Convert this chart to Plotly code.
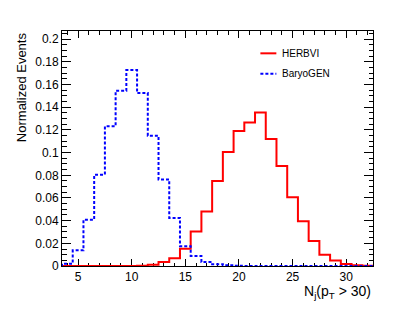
import plotly.graph_objects as go

# ---- data ----
bin_centers = list(range(3, 33))  # unit-width bins centered on integers
baryogen = [0.0, 0.002, 0.0138, 0.0409, 0.0805, 0.1232, 0.1545, 0.1728, 0.1525, 0.115,
            0.0763, 0.0424, 0.0174, 0.0088, 0.0035, 0.0015, 0.0007, 0.0003, 0.0001, 0.0,
            0.0, 0.0, 0.0, 0.0, 0.0, 0.0, 0.0, 0.0, 0.0, 0.0]
herbvi = [0.0, 0.0, 0.0, 0.0, 0.0, 0.0, 0.0, 0.0, 0.0002, 0.001,
          0.0035, 0.0068, 0.0153, 0.0305, 0.048, 0.075, 0.1006, 0.119, 0.1266, 0.1354,
          0.112, 0.0883, 0.0606, 0.0395, 0.022, 0.010, 0.0048, 0.0018, 0.0006, 0.0002]
series_names = ["HERBVI", "BaryoGEN"]
x_tick_vals = [5, 10, 15, 20, 25, 30]
y_tick_vals = [0, 0.02, 0.04, 0.06, 0.08, 0.1, 0.12, 0.14, 0.16, 0.18, 0.2]
y_tick_text = ["0", "0.02", "0.04", "0.06", "0.08", "0.1", "0.12", "0.14", "0.16", "0.18", "0.2"]


def step_xy(centers, values):
    edges = [c - 0.5 for c in centers] + [centers[-1] + 0.5]
    return edges, list(values) + [values[-1]]


FONT = "Liberation Sans, Arial, Helvetica, sans-serif"
RED = "#ff0000"
BLUE = "#0000ff"

fig = go.Figure()
xr, yr = step_xy(bin_centers, herbvi)
fig.add_trace(go.Scatter(x=xr, y=yr, mode="lines", line=dict(shape="hv", color=RED, width=2),
                         name=series_names[0], showlegend=False))
xb, yb = step_xy(bin_centers, baryogen)
fig.add_trace(go.Scatter(x=xb, y=yb, mode="lines",
                         line=dict(shape="hv", color=BLUE, width=2, dash="3px,2px"),
                         name=series_names[1], showlegend=False))

L, R, T, B = 62, 41.5, 31, 47.3
W, H = 415, 313
pw, ph = W - L - R, H - T - B


def px_to_paper(px, py):
    return (px - L) / pw, (H - B - py) / ph


# manual ROOT-like legend
leg = [(series_names[0], RED, "solid", 53.3), (series_names[1], BLUE, "3px,2px", 73.7)]
for name, col, dash, ypx in leg:
    x0, yy = px_to_paper(260.7, ypx)
    x1, _ = px_to_paper(276.7, ypx)
    fig.add_shape(type="line", xref="paper", yref="paper", x0=x0, x1=x1, y0=yy, y1=yy,
                  line=dict(color=col, width=2, dash=dash))
    xt, _ = px_to_paper(280, ypx)
    fig.add_annotation(xref="paper", yref="paper", x=xt, y=yy, text=name, showarrow=False,
                       xanchor="left", yanchor="middle", font=dict(family=FONT, size=10, color="black"))

# axis titles
ytx, yty = px_to_paper(21, 87)
fig.add_annotation(xref="paper", yref="paper", x=ytx, y=yty, text="Normalized Events",
                   textangle=-90, showarrow=False, xanchor="center", yanchor="middle",
                   font=dict(family=FONT, size=13, color="black"))
_, xty = px_to_paper(0, 292)
fig.add_annotation(xref="paper", yref="paper", x=1.0, y=xty,
                   text="N<sub>j</sub>(p<sub>T</sub> > 30)", showarrow=False,
                   xanchor="right", yanchor="middle", font=dict(family=FONT, size=14, color="black"))

fig.update_layout(
    width=W, height=H,
    margin=dict(l=L, r=R, t=T, b=B, pad=0),
    paper_bgcolor="white", plot_bgcolor="white",
    showlegend=False,
    font=dict(family=FONT, color="black"),
    xaxis=dict(range=[3.5, 32.5], tickvals=x_tick_vals, ticks="inside", ticklen=7,
               tickcolor="black", tickwidth=1, showline=True, linecolor="black", linewidth=1,
               mirror="ticks", showgrid=False, zeroline=False, layer="below traces",
               tickfont=dict(family=FONT, size=12, color="black"),
               minor=dict(dtick=1, tick0=0, ticks="inside", ticklen=3.5, tickcolor="black", showgrid=False)),
    yaxis=dict(range=[0, 0.2073], tickvals=y_tick_vals, ticktext=y_tick_text, ticks="inside",
               ticklen=9, tickcolor="black", tickwidth=1, showline=True, linecolor="black",
               linewidth=1, mirror="ticks", showgrid=False, zeroline=False, layer="below traces",
               tickfont=dict(family=FONT, size=12, color="black"),
               minor=dict(dtick=0.005, tick0=0, ticks="inside", ticklen=4.5, tickcolor="black", showgrid=False)),
)

fig.write_html("out.html", config={"displayModeBar": False},
               post_script="document.body.style.margin='0px';")
